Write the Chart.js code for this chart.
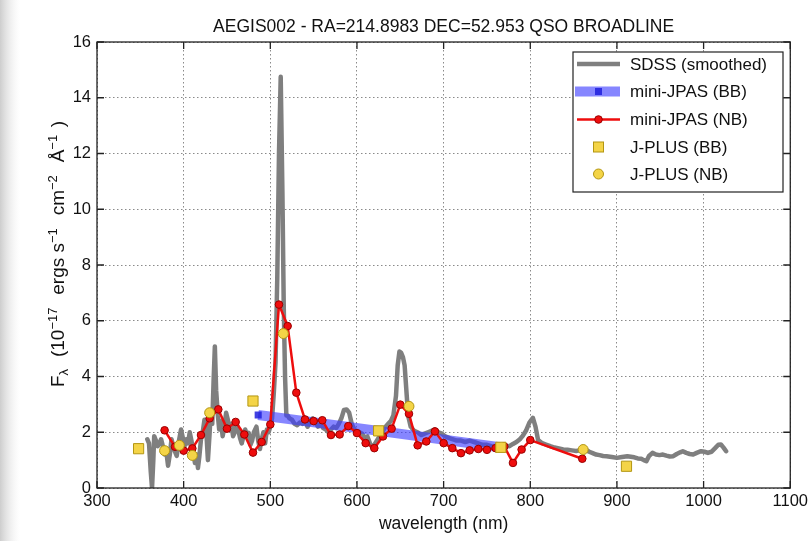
<!DOCTYPE html>
<html><head><meta charset="utf-8">
<script src="https://cdn.jsdelivr.net/npm/chart.js@4/dist/chart.umd.min.js"></script>
<style>html,body{margin:0;padding:0;background:#fff}canvas{display:block}</style>
</head><body>
<canvas id="c" width="812" height="541"></canvas>
<script>
const chartTitle = "AEGIS002 - RA=214.8983 DEC=52.953 QSO BROADLINE";
const xAxisTitle = "wavelength (nm)";
const xTicks = [300, 400, 500, 600, 700, 800, 900, 1000, 1100];
const yTicks = [0, 2, 4, 6, 8, 10, 12, 14, 16];
const seriesLabels = ["SDSS (smoothed)", "mini-JPAS (BB)", "mini-JPAS (NB)", "J-PLUS (BB)", "J-PLUS (NB)"];

const sdssWave = [358,360,362,363.5,365,366,368,370,372,374,376,378,380,382,384,386,388,390,392,394,397,399,401,403,405,407,409,411,413,415,416.5,418,420,422,424,426,428,430,431,433,434.5,436,437.5,439.5,441,443,445,447,449,451,453,455,457,459,461,463,465,467,469,471,473,475,477,479,481,484,486,488,490,492,494,496,498,500,502,504,506,508,510,512,514,515.5,517,518.5,520,522,525,528,531,534,537,540,543,546,549,552,555,558,561,564,567,570,573,576,579,582,585,588,591,594,597,600,603,606,609,612,615,618,621,624,627,630,633,636,639,642,645,647,649,651,653,655,657,659,662,666,670,674,678,682,686,690,694,698,702,706,710,715,720,725,730,735,740,745,750,755,760,765,770,776,780,784,788,791,795,799,803,806,809,813,818,823,828,833,838,843,848,853,858,864,868,872,876,880,884,888,892,896,900,904,908,912,916,920,924,928,931,934,937,941,945,949,953,957,961,965,969,973,976,980,984,988,992,997,1001,1005,1009,1013,1017,1020,1023,1026];
const sdssFlux = [1.75,1.6,0.6,0.0,1.0,1.86,1.7,1.5,1.6,1.75,1.5,1.2,1.3,0.8,1.2,1.75,1.5,1.3,1.15,1.6,2.1,1.8,1.5,1.75,1.6,2.0,1.7,1.3,0.9,1.2,0.72,1.1,1.75,2.0,2.45,2.1,1.0,2.0,2.6,2.3,3.8,5.08,3.5,2.6,2.1,2.4,1.86,2.2,2.7,2.45,2.1,2.3,1.86,2.0,2.3,2.1,1.8,1.6,1.85,2.1,1.9,1.98,1.55,1.7,2.0,2.2,1.7,1.4,1.74,2.0,1.6,2.1,2.0,2.2,2.5,3.4,4.5,7.5,12.0,14.75,10.5,6.5,4.0,2.6,2.6,2.5,2.45,2.3,2.25,2.35,2.3,2.4,2.2,2.4,2.5,2.35,2.2,2.3,2.15,2.1,2.0,2.1,2.2,2.15,2.3,2.5,2.8,2.82,2.7,2.3,2.1,2.0,2.0,1.95,1.8,1.85,1.6,1.44,1.6,1.75,1.9,2.05,2.2,2.3,2.4,2.6,3.3,4.4,4.9,4.85,4.7,4.4,3.5,2.6,2.2,2.05,2.0,1.9,1.95,2.0,2.05,2.1,2.0,1.95,1.85,1.8,1.75,1.7,1.7,1.65,1.7,1.65,1.6,1.55,1.55,1.5,1.45,1.5,1.52,1.5,1.58,1.65,1.75,1.86,2.05,2.35,2.52,2.2,1.72,1.62,1.56,1.5,1.45,1.42,1.38,1.37,1.35,1.33,1.36,1.38,1.3,1.25,1.2,1.18,1.15,1.14,1.12,1.1,1.08,1.1,1.12,1.14,1.12,1.1,1.06,1.05,1.0,0.96,1.15,1.26,1.2,1.18,1.2,1.16,1.13,1.14,1.22,1.28,1.32,1.26,1.22,1.2,1.26,1.32,1.3,1.26,1.3,1.42,1.55,1.56,1.45,1.32];

const jpasBBWave = [486, 625, 765];
const jpasBBFlux = [2.62, 2.05, 1.46];

const jpasNBWave = [378,390,400,410,420,430,440,450,460,470,480,490,500,510,520,530,540,550,560,570,580,590,600,610,620,630,640,650,660,670,680,690,700,710,720,730,740,750,760,770,780,790,800,860];
const jpasNBFlux = [2.07,1.48,1.34,1.42,1.9,2.5,2.82,2.13,2.37,1.92,1.27,1.65,2.28,6.58,5.81,3.42,2.46,2.4,2.43,1.9,1.92,2.22,1.97,1.61,1.43,1.85,2.13,2.99,2.66,1.53,1.67,2.03,1.61,1.43,1.25,1.35,1.4,1.37,1.43,1.49,0.9,1.38,1.72,1.05];

const jplusBBWave = [348, 480, 625, 766, 911];
const jplusBBFlux = [1.41, 3.12, 2.05, 1.46, 0.78];

const jplusNBWave = [378, 395, 410, 430, 515, 660, 861];
const jplusNBFlux = [1.34, 1.53, 1.17, 2.7, 5.54, 2.93, 1.38];

const pts = (xs, ys) => xs.map((x, i) => ({x: x, y: ys[i]}));

const FONT = '"Liberation Sans", Arial, sans-serif';
const GRAY = '#7f7f7f', BLUE = 'rgba(60,60,255,0.62)', BLUEPT = 'rgba(30,30,220,0.85)';
const RED = '#ee0d0d', REDEDGE = '#9a0000', YEL = '#f4d447', YELEDGE = '#b39612';

const bgPlugin = {
  id: 'bg',
  beforeDraw(chart) {
    const ctx = chart.ctx;
    ctx.save();
    ctx.fillStyle = '#ffffff';
    ctx.fillRect(0, 0, chart.width, chart.height);
    const g = ctx.createLinearGradient(0, 0, 20, 0);
    g.addColorStop(0, 'rgba(200,200,200,0.9)');
    g.addColorStop(1, 'rgba(235,235,235,0)');
    ctx.fillStyle = g;
    ctx.fillRect(0, 0, 20, chart.height);
    ctx.restore();
  }
};

const framePlugin = {
  id: 'frame',
  afterDatasetsDraw(chart) {
    const {ctx, chartArea: a, scales} = chart;
    ctx.save();
    ctx.strokeStyle = '#222';
    ctx.lineWidth = 1.3;
    ctx.beginPath();
    xTicks.forEach(v => {
      const px = scales.x.getPixelForValue(v);
      ctx.moveTo(px, a.bottom); ctx.lineTo(px, a.bottom - 7);
      ctx.moveTo(px, a.top); ctx.lineTo(px, a.top + 7);
    });
    yTicks.forEach(v => {
      const py = scales.y.getPixelForValue(v);
      ctx.moveTo(a.left, py); ctx.lineTo(a.left + 7, py);
      ctx.moveTo(a.right, py); ctx.lineTo(a.right - 7, py);
    });
    ctx.stroke();
    ctx.strokeRect(a.left, a.top, a.right - a.left, a.bottom - a.top);
    ctx.restore();
  }
};

const textPlugin = {
  id: 'texts',
  afterDraw(chart) {
    const {ctx, chartArea: a} = chart;
    ctx.save();
    ctx.fillStyle = '#111';
    ctx.textAlign = 'center';
    ctx.textBaseline = 'middle';
    ctx.font = '17.5px ' + FONT;
    ctx.fillText(chartTitle, (a.left + a.right) / 2, 27);
    ctx.fillText(xAxisTitle, (a.left + a.right) / 2, 524);

    // y axis label with sub/superscripts
    const segs = [
      ['F', 'm'], ['\u03bb', 'sub'], [' (10', 'm'], ['\u221217', 'sup'], [' ergs s', 'm'], ['\u22121', 'sup'],
      [' cm', 'm'], ['\u22122', 'sup'], [' \u00c5', 'm'], ['\u22121', 'sup'], [')', 'm']
    ];
    const fm = '19px ' + FONT, fs = '13px ' + FONT;
    let total = 0;
    const widths = segs.map(s => { ctx.font = s[1] === 'm' ? fm : fs; const w = ctx.measureText(s[0]).width; total += w; return w; });
    const target = 262;
    const spaced = segs.filter(s => s[0].charAt(0) === ' ').length;
    const gap = Math.max(0, (target - total) / (spaced + 1));
    const full = total + gap * (spaced + 1);
    ctx.translate(58, 256);
    ctx.rotate(-Math.PI / 2);
    ctx.textAlign = 'left';
    ctx.textBaseline = 'alphabetic';
    let x = -full / 2;
    segs.forEach((s, i) => {
      ctx.font = s[1] === 'm' ? fm : fs;
      if (s[0].charAt(0) === ' ' || i === segs.length - 1) x += gap;
      const dy = s[1] === 'sup' ? -7.5 : (s[1] === 'sub' ? 4 : 0);
      ctx.fillText(s[0], x, 6 + dy);
      x += widths[i] + (s[1] === 'sup' ? 1 : 0);
    });
    ctx.restore();

    // legend
    ctx.save();
    const L = {x: 573, y: 52, w: 210, h: 140};
    ctx.fillStyle = '#fff';
    ctx.fillRect(L.x, L.y, L.w, L.h);
    ctx.strokeStyle = '#222';
    ctx.lineWidth = 1.2;
    ctx.strokeRect(L.x, L.y, L.w, L.h);
    const rows = [64, 91.5, 119.5, 147, 174];
    const sx0 = 577, sx1 = 620, sc = 598.5;
    ctx.lineCap = 'butt';
    ctx.strokeStyle = GRAY; ctx.lineWidth = 4.5;
    ctx.beginPath(); ctx.moveTo(sx0, rows[0]); ctx.lineTo(sx1, rows[0]); ctx.stroke();
    ctx.strokeStyle = BLUE; ctx.lineWidth = 10;
    ctx.beginPath(); ctx.moveTo(sx0 - 2, rows[1]); ctx.lineTo(sx1, rows[1]); ctx.stroke();
    ctx.fillStyle = BLUEPT; ctx.fillRect(sc - 3.5, rows[1] - 3.5, 7, 7);
    ctx.strokeStyle = RED; ctx.lineWidth = 2.5;
    ctx.beginPath(); ctx.moveTo(sx0, rows[2]); ctx.lineTo(sx1, rows[2]); ctx.stroke();
    ctx.fillStyle = RED; ctx.strokeStyle = REDEDGE; ctx.lineWidth = 1;
    ctx.beginPath(); ctx.arc(sc, rows[2], 3.8, 0, Math.PI * 2); ctx.fill(); ctx.stroke();
    ctx.fillStyle = YEL; ctx.strokeStyle = YELEDGE;
    ctx.fillRect(sc - 5, rows[3] - 5, 10, 10); ctx.strokeRect(sc - 5, rows[3] - 5, 10, 10);
    ctx.beginPath(); ctx.arc(sc, rows[4], 5, 0, Math.PI * 2); ctx.fill(); ctx.stroke();
    ctx.fillStyle = '#111';
    ctx.font = '17px ' + FONT;
    ctx.textAlign = 'left'; ctx.textBaseline = 'middle';
    seriesLabels.forEach((t, i) => ctx.fillText(t, 630, rows[i] + 1));
    ctx.restore();
  }
};

new Chart(document.getElementById('c'), {
  type: 'scatter',
  data: {
    datasets: [
      {label: seriesLabels[0], data: pts(sdssWave, sdssFlux), showLine: true, borderColor: GRAY, borderWidth: 4.5,
        borderJoinStyle: 'round', borderCapStyle: 'round', pointRadius: 0, tension: 0, order: 5},
      {label: seriesLabels[1], data: pts(jpasBBWave, jpasBBFlux), showLine: true, borderColor: BLUE, borderWidth: 10, borderCapStyle: 'butt',
        pointStyle: 'rect', pointRadius: 5, pointBackgroundColor: BLUEPT, pointBorderWidth: 0, order: 4},
      {label: seriesLabels[2], data: pts(jpasNBWave, jpasNBFlux), showLine: true, borderColor: RED, borderWidth: 2.5, borderJoinStyle: 'round',
        pointRadius: 3.8, pointBackgroundColor: RED, pointBorderColor: REDEDGE, pointBorderWidth: 1, order: 3},
      {label: seriesLabels[3], data: pts(jplusBBWave, jplusBBFlux), showLine: false, pointStyle: 'rect', pointRadius: 7.2,
        pointBackgroundColor: YEL, pointBorderColor: YELEDGE, pointBorderWidth: 1, order: 2},
      {label: seriesLabels[4], data: pts(jplusNBWave, jplusNBFlux), showLine: false, pointRadius: 5,
        pointBackgroundColor: YEL, pointBorderColor: YELEDGE, pointBorderWidth: 1, order: 1}
    ]
  },
  options: {
    responsive: false,
    animation: false,
    events: [],
    layout: {padding: {left: 0, top: 42, right: 19, bottom: 0}},
    plugins: {legend: {display: false}, title: {display: false}, tooltip: {enabled: false}},
    scales: {
      x: {
        type: 'linear', min: 300, max: 1100,
        afterFit: s => { s.height = 53; },
        afterBuildTicks: s => { s.ticks = xTicks.map(v => ({value: v})); },
        grid: {color: '#8a8a8a', lineWidth: 1, drawTicks: false},
        border: {display: false, dash: [1.5, 2.5]},
        ticks: {padding: 4, color: '#111', font: {size: 16.5, family: FONT}, maxRotation: 0, callback: v => String(v)}
      },
      y: {
        type: 'linear', min: 0, max: 16,
        afterFit: s => { s.width = 97; },
        afterBuildTicks: s => { s.ticks = yTicks.map(v => ({value: v})); },
        grid: {color: '#8a8a8a', lineWidth: 1, drawTicks: false},
        border: {display: false, dash: [1.5, 2.5]},
        ticks: {padding: 6, color: '#111', font: {size: 16.5, family: FONT}, callback: v => String(v)}
      }
    }
  },
  plugins: [bgPlugin, framePlugin, textPlugin]
});
</script>
</body></html>
